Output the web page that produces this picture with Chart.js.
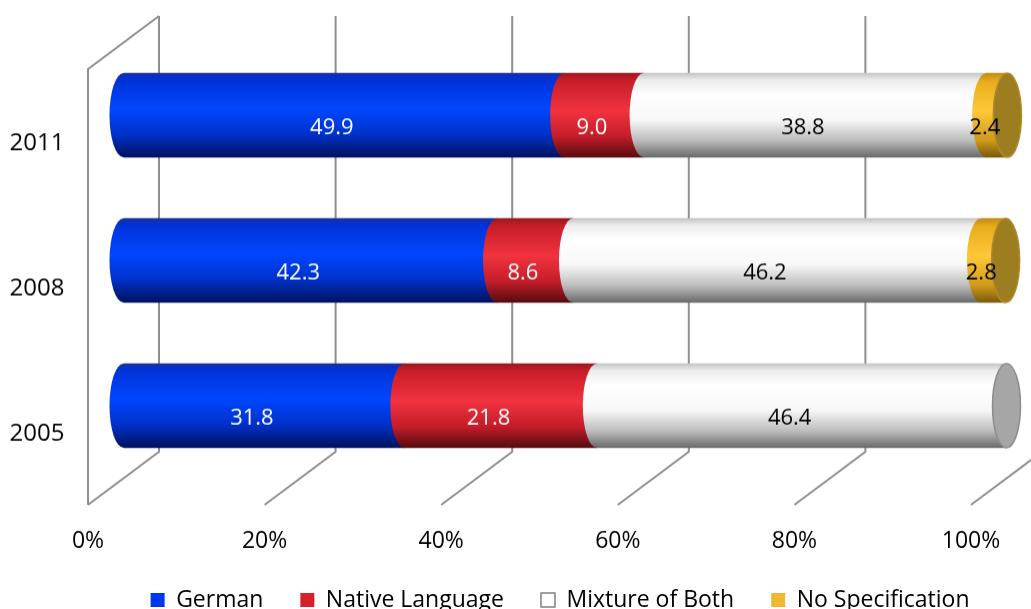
<!DOCTYPE html>
<html>
<head>
<meta charset="utf-8">
<title>Language spoken at home</title>
<script src="https://cdn.jsdelivr.net/npm/chart.js@4.4.1/dist/chart.umd.min.js"></script>
<style>
  html, body { margin: 0; padding: 0; background: #fff; overflow: hidden; }
  #wrap { position: relative; width: 1031px; height: 620.5px; }
</style>
</head>
<body>
<div id="wrap"><canvas id="langChart"></canvas></div>
<script>
// survey years, top to bottom
const years = ['2011', '2008', '2005'];

// shares in percent per year
const german = [49.9, 42.3, 31.8];
const nativeLanguage = [9.0, 8.6, 21.8];
const mixtureOfBoth = [38.8, 46.2, 46.4];
const noSpecification = [2.4, 2.8, 0];

const seriesNames = ['German', 'Native Language', 'Mixture of Both', 'No Specification'];
const xTicks = [0, 20, 40, 60, 80, 100];

// cylinder shading, top edge to bottom edge
const shades = [
    [[0, '#1c2f9c'], [0.07, '#0032d8'], [0.42, '#0046ff'], [0.72, '#0032cc'], [1, '#00125e']],
    [[0, '#9c1820'], [0.09, '#c81e2a'], [0.45, '#f2323f'], [0.75, '#c41d29'], [1, '#560b10']],
    [[0, '#c4c4c4'], [0.08, '#ececec'], [0.25, '#ffffff'], [0.55, '#f8f8f8'], [0.8, '#bdbdbd'], [1, '#6a6a6a']],
    [[0, '#c08c14'], [0.1, '#e8ae1e'], [0.45, '#ffc83a'], [0.8, '#d09a1a'], [1, '#7a5a0c']]
];
const capFaces = ['#0020a0', '#8a1018', '#a6a6a6', '#9c7d20'];
const capEdges = ['#001878', '#6a0c12', '#8c8c8c', '#b08a28'];
const legendFills = ['#0038f0', '#d8202c', '#ffffff', '#f0b830'];
const labelColors = ['#ffffff', '#ffffff', '#000000', '#000000'];

const BAR = 84;        // bar thickness in px
const CAP_RX = 14;     // horizontal radius of the elliptical ends
const DEPTH_X = 35.5;  // half depth of the 3D box
const DEPTH_Y = 26.5;
const FONT = '"Open Sans", "Noto Sans", sans-serif';

function cylinderGradient(ctx, yc, h, stops) {
    const g = ctx.createLinearGradient(0, yc - h / 2, 0, yc + h / 2);
    stops.forEach(s => g.addColorStop(s[0], s[1]));
    return g;
}

// back wall, side wall and floor lines
const boxPlugin = {
    id: 'box3d',
    beforeDatasetsDraw(chart) {
        const ctx = chart.ctx;
        const x = chart.scales.x;
        const { top, bottom } = chart.chartArea;
        ctx.save();
        ctx.strokeStyle = '#8f8f8f';
        ctx.lineWidth = 2;
        ctx.beginPath();
        xTicks.forEach(v => {
            const xb = x.getPixelForValue(v) + DEPTH_X;
            ctx.moveTo(xb, top - DEPTH_Y);
            ctx.lineTo(xb, bottom - DEPTH_Y);
            ctx.lineTo(xb - 2 * DEPTH_X, bottom + DEPTH_Y);
        });
        const x0 = x.getPixelForValue(0);
        ctx.moveTo(x0 + DEPTH_X, top - DEPTH_Y);
        ctx.lineTo(x0 - DEPTH_X, top + DEPTH_Y);
        ctx.lineTo(x0 - DEPTH_X, bottom + DEPTH_Y);
        ctx.stroke();
        ctx.restore();
    }
};

// rounded ends of each cylinder piece, the end face and the value labels
const cylinderPlugin = {
    id: 'cylinders',
    afterDatasetsDraw(chart) {
        const ctx = chart.ctx;
        const sets = chart.data.datasets;
        ctx.save();
        sets.forEach((ds, i) => {
            chart.getDatasetMeta(i).data.forEach((el, j) => {
                if (!ds.data[j]) return;
                const h = el.height;
                ctx.fillStyle = cylinderGradient(ctx, el.y, h, shades[i]);
                ctx.beginPath();
                ctx.ellipse(el.base, el.y, CAP_RX, h / 2, 0, Math.PI / 2, Math.PI * 1.5);
                // overlap the piece itself a little so no seam shows
                ctx.lineTo(el.base + 2, el.y - h / 2);
                ctx.lineTo(el.base + 2, el.y + h / 2);
                ctx.closePath();
                ctx.fill();
            });
        });
        // flat end of the last non-empty piece in each bar
        years.forEach((yr, j) => {
            let last = -1;
            sets.forEach((ds, i) => { if (ds.data[j] > 0) last = i; });
            if (last < 0) return;
            const el = chart.getDatasetMeta(last).data[j];
            ctx.beginPath();
            ctx.ellipse(el.x, el.y, CAP_RX, el.height / 2, 0, 0, Math.PI * 2);
            ctx.fillStyle = capFaces[last];
            ctx.fill();
            ctx.strokeStyle = capEdges[last];
            ctx.lineWidth = 1.5;
            ctx.stroke();
        });
        ctx.font = '22px ' + FONT;
        ctx.textAlign = 'center';
        ctx.textBaseline = 'middle';
        sets.forEach((ds, i) => {
            chart.getDatasetMeta(i).data.forEach((el, j) => {
                const v = ds.data[j];
                if (!v) return;
                ctx.fillStyle = labelColors[i];
                ctx.fillText(v.toFixed(1), (el.base + el.x) / 2 - 12, el.y + 13);
            });
        });
        ctx.restore();
    }
};

const seriesData = [german, nativeLanguage, mixtureOfBoth, noSpecification];

const chart = new Chart(document.getElementById('langChart'), {
    type: 'bar',
    data: {
        labels: years,
        datasets: seriesData.map((values, i) => ({
            label: seriesNames[i],
            data: values,
            barThickness: BAR,
            borderWidth: 0,
            backgroundColor: c => {
                const area = c.chart.chartArea;
                if (!area) return legendFills[i];
                const yc = c.chart.scales.y.getPixelForValue(c.dataIndex);
                return cylinderGradient(c.chart.ctx, yc, BAR, shades[i]);
            }
        }))
    },
    options: {
        indexAxis: 'y',
        responsive: true,
        maintainAspectRatio: false,
        animation: false,
        layout: { padding: { top: 42.5, left: 0, right: 24.5, bottom: 0 } },
        scales: {
            x: {
                stacked: true,
                min: 0,
                max: 100,
                grid: { display: false, drawTicks: false },
                border: { display: false },
                afterBuildTicks: s => { s.ticks = xTicks.map(v => ({ value: v })); },
                afterFit: s => { s.height = 73; s.paddingLeft = 0; s.paddingRight = 0; },
                ticks: {
                    padding: 51,
                    labelOffset: -DEPTH_X,
                    maxRotation: 0,
                    color: '#000',
                    font: { family: FONT, size: 23, lineHeight: 1 },
                    callback: v => v + '%'
                }
            },
            y: {
                stacked: true,
                grid: { display: false, drawTicks: false },
                border: { display: false },
                afterFit: s => { s.width = 123.5; s.paddingTop = 0; s.paddingBottom = 0; },
                ticks: {
                    padding: 59,
                    labelOffset: 28,
                    color: '#000',
                    font: { family: FONT, size: 24 }
                }
            }
        },
        plugins: {
            tooltip: { enabled: false },
            legend: {
                position: 'bottom',
                align: 'end',
                labels: {
                    boxWidth: 14,
                    boxHeight: 14,
                    padding: 37,
                    color: '#000',
                    font: { family: FONT, size: 23, lineHeight: 1 },
                    generateLabels: c => c.data.datasets.map((ds, i) => ({
                        text: ds.label,
                        fillStyle: legendFills[i],
                        strokeStyle: i === 2 ? '#808080' : legendFills[i],
                        lineWidth: i === 2 ? 1.5 : 0,
                        fontColor: '#000',
                        hidden: false,
                        datasetIndex: i
                    }))
                }
            }
        }
    },
    plugins: [boxPlugin, cylinderPlugin]
});
</script>
</body>
</html>
